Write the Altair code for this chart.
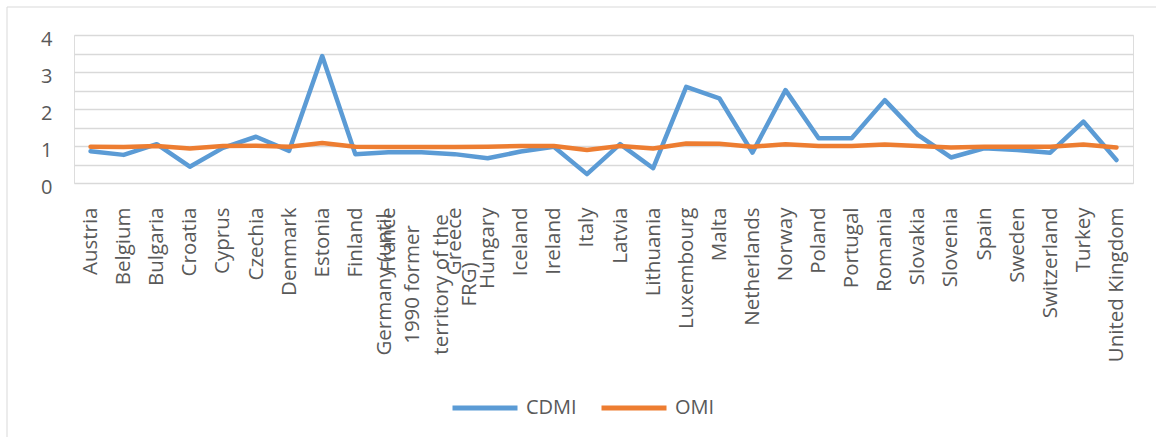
import altair as alt
import pandas as pd

countries = ["Austria", "Belgium", "Bulgaria", "Croatia", "Cyprus", "Czechia", "Denmark",
             "Estonia", "Finland", "France",
             "Germany (until 1990 former territory of the FRG)",
             "Greece", "Hungary", "Iceland", "Ireland", "Italy", "Latvia", "Lithuania",
             "Luxembourg", "Malta", "Netherlands", "Norway", "Poland", "Portugal",
             "Romania", "Slovakia", "Slovenia", "Spain", "Sweden", "Switzerland",
             "Turkey", "United Kingdom"]
germany_lines = ["Germany (until", "1990 former", "territory of the", "FRG)"]

cdmi = [0.86, 0.76, 1.05, 0.44, 0.95, 1.25, 0.87, 3.43, 0.78, 0.83, 0.83,
        0.78, 0.67, 0.85, 0.98, 0.24, 1.05, 0.40, 2.60, 2.29, 0.82, 2.51,
        1.21, 1.21, 2.24, 1.30, 0.69, 0.94, 0.89, 0.82, 1.66, 0.62]
omi = [0.98, 0.97, 1.00, 0.93, 1.00, 1.01, 0.98, 1.08, 0.98, 0.97, 0.97,
       0.97, 0.98, 1.00, 1.00, 0.89, 1.00, 0.93, 1.07, 1.06, 0.98, 1.05,
       1.00, 1.00, 1.04, 1.00, 0.96, 0.98, 0.98, 0.98, 1.04, 0.96]
series = ["CDMI", "OMI"]
colors = ["#5B9BD5", "#ED7D31"]

df = pd.DataFrame({
    "country": countries * 2,
    "series": [series[0]] * len(countries) + [series[1]] * len(countries),
    "value": cdmi + omi,
})

FONT = "Open Sans"
TXT = "#595959"
germany = countries[10]
germany_js = "[" + ", ".join("'" + s + "'" for s in germany_lines) + "]"
test = "datum.value == '" + germany + "'"

lines = alt.Chart(df).mark_line(strokeWidth=4.5, strokeJoin="round", strokeCap="round").encode(
    x=alt.X("country:N", sort=countries, title=None,
            scale=alt.Scale(padding=0.5),
            axis=alt.Axis(labelAngle=-90, labelFont=FONT, labelFontSize=20.5, labelColor=TXT,
                          labelPadding=alt.condition(test, alt.value(101), alt.value(24)),
                          labelAlign=alt.condition(test, alt.value("center"), alt.value("right")),
                          labelOffset=alt.condition(test, alt.value(-37), alt.value(0)),
                          labelLineHeight=28.5,
                          labelExpr=test + " ? " + germany_js + " : datum.label",
                          labelOverlap=False, labelLimit=0, ticks=False, domain=False,
                          grid=False)),
    y=alt.Y("value:Q", title=None,
            scale=alt.Scale(domain=[0, 4], nice=False),
            axis=alt.Axis(values=[0, 0.5, 1, 1.5, 2, 2.5, 3, 3.5, 4],
                          labelExpr="datum.value % 1 == 0 ? format(datum.value, 'd') : ''",
                          labelFont=FONT, labelFontSize=20, labelColor=TXT,
                          labelPadding=22, labelOffset=4, ticks=False, domain=False,
                          grid=True, gridColor="#D9D9D9", gridWidth=1.3)),
    color=alt.Color("series:N", sort=series,
                    scale=alt.Scale(domain=series, range=colors),
                    legend=alt.Legend(title=None, orient="none", direction="horizontal",
                                      legendX=376, legendY=338,
                                      symbolType="stroke", symbolSize=4225,
                                      symbolStrokeWidth=5, labelFont=FONT,
                                      labelFontSize=20, labelColor=TXT,
                                      labelOffset=6, columnPadding=14)),
)

frame_df = pd.DataFrame({"a": [0]})
frame_left = alt.Chart(frame_df).mark_rule(color="#D9D9D9", strokeWidth=1).encode(
    x=alt.value(-67), y=alt.value(-28), y2=alt.value(402))
frame_top = alt.Chart(frame_df).mark_rule(color="#D9D9D9", strokeWidth=1).encode(
    x=alt.value(-67), x2=alt.value(1090), y=alt.value(-28))

chart = alt.layer(frame_left, frame_top, lines).properties(
    width=1059, height=148,
    autosize=alt.AutoSizeParams(type="none"),
    padding={"left": 74, "top": 35, "right": 23, "bottom": 254},
).configure_view(stroke=None).configure(background="white")

chart.save("out.html", embed_options={"renderer": "svg", "actions": False})
